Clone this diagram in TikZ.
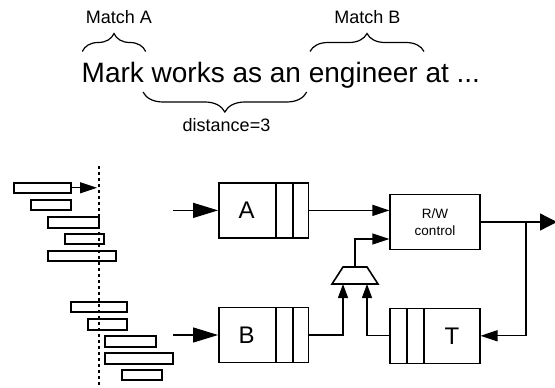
\documentclass[tikz,border=0pt]{standalone}
\usepackage{fontspec}
\setmainfont{Liberation Sans}
\usetikzlibrary{arrows.meta,decorations.pathreplacing,calc}
\begin{document}
\begin{tikzpicture}[x=1pt,y=-1pt,
  bar/.style={draw, line width=2pt, rectangle, inner sep=0pt, minimum height=10.5pt},
  qbox/.style={draw, line width=1.6pt, rectangle, inner sep=0pt, minimum width=89.5pt, minimum height=55pt},
  conn/.style={line width=1.3pt},
  bighead/.style={-{Triangle[length=25pt,width=15pt]}},
  midhead/.style={-{Triangle[length=17pt,width=11pt]}},
  smallhead/.style={-{Triangle[length=14pt,width=10pt]}},
  brc/.style={decorate, decoration={brace, amplitude=18pt}, line width=1.2pt},
  small/.style={font=\fontsize{18pt}{20pt}\selectfont, inner sep=0pt, anchor=base},
  letter/.style={font=\fontsize{24pt}{26pt}\selectfont, inner sep=0pt},
  divider/.style={line width=1.6pt}
]
\path[use as bounding box] (0,0) rectangle (555,388);

% --- top text and braces ---
\node[small] (mA) at (118.8,23.3) {Match A};
\node[small] (mB) at (367.5,23.3) {Match B};
\node[font=\fontsize{28pt}{30pt}\selectfont, inner sep=0pt, anchor=base west] (sent) at (81.5,82.7) {Mark works as an engineer at ...};
\node[small] (dist) at (226.5,131.7) {distance=3};
\draw[brc] (82.3,51.5) -- (145.7,51.5);
\draw[brc] (310,51.5) -- (424,51.5);
\draw[brc, decoration={amplitude=20pt}] (306.7,92) -- (143,92);

% --- left bars ---
\node[bar, minimum width=57pt] (b1) at (42,187.8) {};
\node[bar, minimum width=40pt] (b2) at (50.5,205) {};
\node[bar, minimum width=51pt] (b3) at (73,222.5) {};
\node[bar, minimum width=39pt] (b4) at (84,239) {};
\node[bar, minimum width=68pt] (b5) at (81.5,256) {};
\node[bar, minimum width=56pt] (b6) at (98.5,307) {};
\node[bar, minimum width=39pt] (b7) at (107,324.5) {};
\node[bar, minimum width=51pt] (b8) at (130,341.5) {};
\node[bar, minimum width=68pt] (b9) at (138.5,358.5) {};
\node[bar, minimum width=40pt] (b10) at (141.5,375) {};
\coordinate (dtop) at (98.7,166);
\coordinate (dbot) at (98.7,388);
\draw[line width=2pt, dash pattern=on 3pt off 3pt] (dtop) -- (dbot);
\coordinate (b1tip) at (97,187.8);
\draw[conn, midhead] (b1.east) -- (b1tip);

% --- queues ---
\node[qbox] (A) at (263.6,210.4) {};
\node[letter] at ($(A.west)+(28.7,0)$) {A};
\draw[divider] (276,182.9) -- (276,237.9);
\draw[divider] (292.7,182.9) -- (292.7,237.9);

\node[qbox] (B) at (263.6,335) {};
\node[letter] at ($(B.west)+(28.7,0)$) {B};
\draw[divider] (276,307.5) -- (276,362.5);
\draw[divider] (292.7,307.5) -- (292.7,362.5);

\node[qbox] (T) at (435,335.8) {};
\node[letter] at ($(T.east)+(-28.5,0)$) {T};
\draw[divider] (406.7,308.3) -- (406.7,363.3);
\draw[divider] (424,308.3) -- (424,363.3);

\node[qbox, align=center, font=\fontsize{13.5pt}{17pt}\selectfont] (RW) at (435,222) {R/W\\control};

% --- multiplexer ---
\coordinate (muxtop) at (355,267);
\coordinate (mi1) at (343,284);
\coordinate (mi2) at (367,284);
\draw[line width=1.6pt, line join=miter] (343,267) -- (367,267) -- (378,284) -- (332,284) -- cycle;

% --- connectors ---
\coordinate (inA) at (173,210.4);
\coordinate (inB) at (173,335);
\draw[conn, bighead] (inA) -- (A.west);
\draw[conn, bighead] (inB) -- (B.west);

\draw[conn, midhead] (A.east) -- (A.east -| RW.west);
\draw[conn, midhead] (muxtop) |- ($(RW.west)+(0,17)$);

\draw[conn, smallhead] (B.east) -| (mi1);
\draw[conn, smallhead] (T.west) -| (mi2);

\coordinate (out) at (557,222);
\coordinate (junc) at (526,222);
\draw[conn, -{Triangle[length=17pt,width=17pt]}] (RW.east) -- (out);
\draw[conn, midhead] (junc) |- (T.east);
\end{tikzpicture}
\end{document}
